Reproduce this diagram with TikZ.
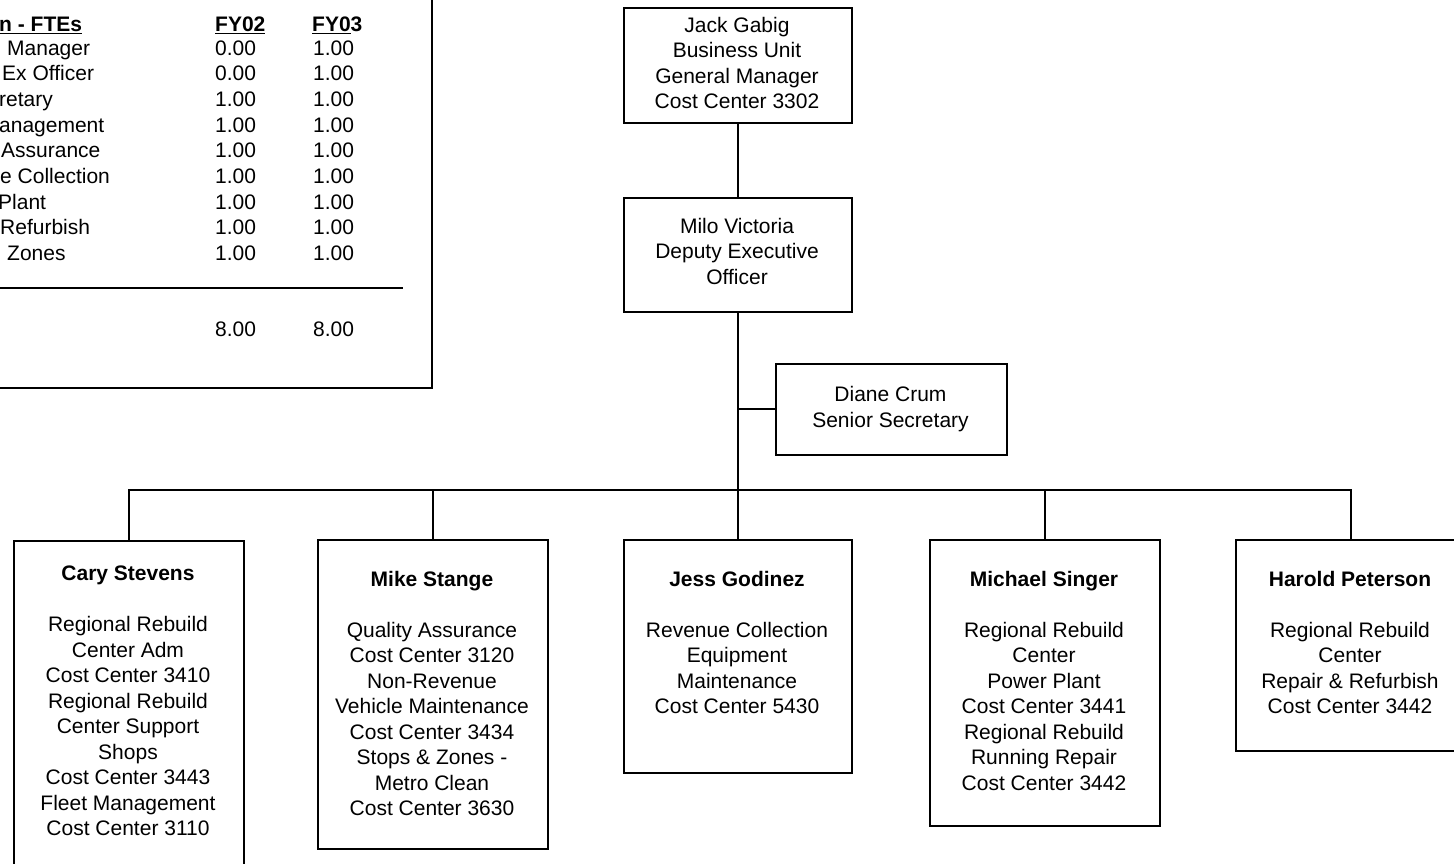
\documentclass[tikz,border=0pt]{standalone}
\usepackage{fontspec}
\setmainfont{Liberation Sans}
\begin{document}
\begin{tikzpicture}[x=1pt,y=-1pt,
  box/.style={draw, line width=2pt, inner sep=0pt, anchor=north west},
  txt/.style={font=\fontsize{21}{25.5}\selectfont, align=center, inner sep=0pt, anchor=north},
  tab/.style={font=\fontsize{21}{25.5}\selectfont, inner sep=0pt, anchor=base west},
  conn/.style={line width=2pt}]
\useasboundingbox (0,0) rectangle (1454,863);
\clip (0,0) rectangle (1454,863);

% ---------- FTE table (cropped at left/top) ----------
\node[box, minimum width=450.5pt, minimum height=400.5pt] (table) at (-20,-14) {};
\node[tab] (th0) at (-1,31.7) {\textbf{\underline{n - FTEs}}};
\node[tab] (th1) at (215,31.7) {\textbf{\underline{FY02}}};
\node[tab] (th2) at (312,31.7) {\textbf{\underline{FY0}3}};
\foreach \lx/\lab/\va/\vb [count=\i] in {
    7/Manager/0.00/1.00,
    2/Ex Officer/0.00/1.00,
    -1/retary/1.00/1.00,
    -1/anagement/1.00/1.00,
    1/Assurance/1.00/1.00,
    0/e Collection/1.00/1.00,
    -2/Plant/1.00/1.00,
    0/Refurbish/1.00/1.00,
    7/Zones/1.00/1.00}{
  \node[tab] (tl\i) at (\lx,{55+25.7*(\i-1)}) {\lab};
  \node[tab] (ta\i) at (215,{55+25.7*(\i-1)}) {\va};
  \node[tab] (tb\i) at (313,{55+25.7*(\i-1)}) {\vb};
}
\draw[conn] (-5,288) -- (403,288);
\node[tab] (tot1) at (215,336.7) {8.00};
\node[tab] (tot2) at (313,336.7) {8.00};

% ---------- boxes ----------
\node[box, minimum width=228pt, minimum height=115pt] (jack) at (623,7) {};
\node[box, minimum width=228pt, minimum height=114pt] (milo) at (623,197) {};
\node[box, minimum width=231pt, minimum height=91.5pt] (diane) at (775,362.5) {};
\node[box, minimum width=230pt, minimum height=340pt] (cary) at (13,540) {};
\node[box, minimum width=230pt, minimum height=309pt] (mike) at (317,539) {};
\node[box, minimum width=228pt, minimum height=233pt] (jess) at (623,539) {};
\node[box, minimum width=230pt, minimum height=286pt] (singer) at (929,539) {};
\node[box, minimum width=230pt, minimum height=211pt] (harold) at (1235,539) {};

% ---------- texts ----------
\node[txt] (jackT) at (737,17) {Jack Gabig\\Business Unit\\General Manager\\Cost Center 3302};
\node[txt] (miloT) at (737,218) {Milo Victoria\\Deputy Executive\\Officer};
\node[txt] (dianeT) at (890.5,386.5) {Diane Crum\\Senior Secretary};
\node[txt] (caryT) at (128,566) {\textbf{Cary Stevens}\\[25.5pt]Regional Rebuild\\Center Adm\\Cost Center 3410\\Regional Rebuild\\Center Support\\Shops\\Cost Center 3443\\Fleet Management\\Cost Center 3110};
\node[txt] (mikeT) at (432,571) {\textbf{Mike Stange}\\[25.5pt]Quality Assurance\\Cost Center 3120\\Non-Revenue\\Vehicle Maintenance\\Cost Center 3434\\Stops \& Zones -\\Metro Clean\\Cost Center 3630};
\node[txt] (jessT) at (737,571) {\textbf{Jess Godinez}\\[25.5pt]Revenue Collection\\Equipment\\Maintenance\\Cost Center 5430};
\node[txt] (singerT) at (1044,571) {\textbf{Michael Singer}\\[25.5pt]Regional Rebuild\\Center\\Power Plant\\Cost Center 3441\\Regional Rebuild\\Running Repair\\Cost Center 3442};
\node[txt] (haroldT) at (1350,571) {\textbf{Harold Peterson}\\[25.5pt]Regional Rebuild\\Center\\Repair \& Refurbish\\Cost Center 3442};

% ---------- connectors ----------
\coordinate (bus) at (737,490);
\draw[conn] (jack.south) -- (milo.north);
\draw[conn] (milo.south) -- (jess.north);
\draw[conn] (milo.south |- diane.west) -- (diane.west);
\draw[conn] (cary.north) -- (cary.north |- bus) -- (harold.north |- bus) -- (harold.north);
\draw[conn] (mike.north) -- (mike.north |- bus);
\draw[conn] (singer.north) -- (singer.north |- bus);
\end{tikzpicture}
\end{document}
